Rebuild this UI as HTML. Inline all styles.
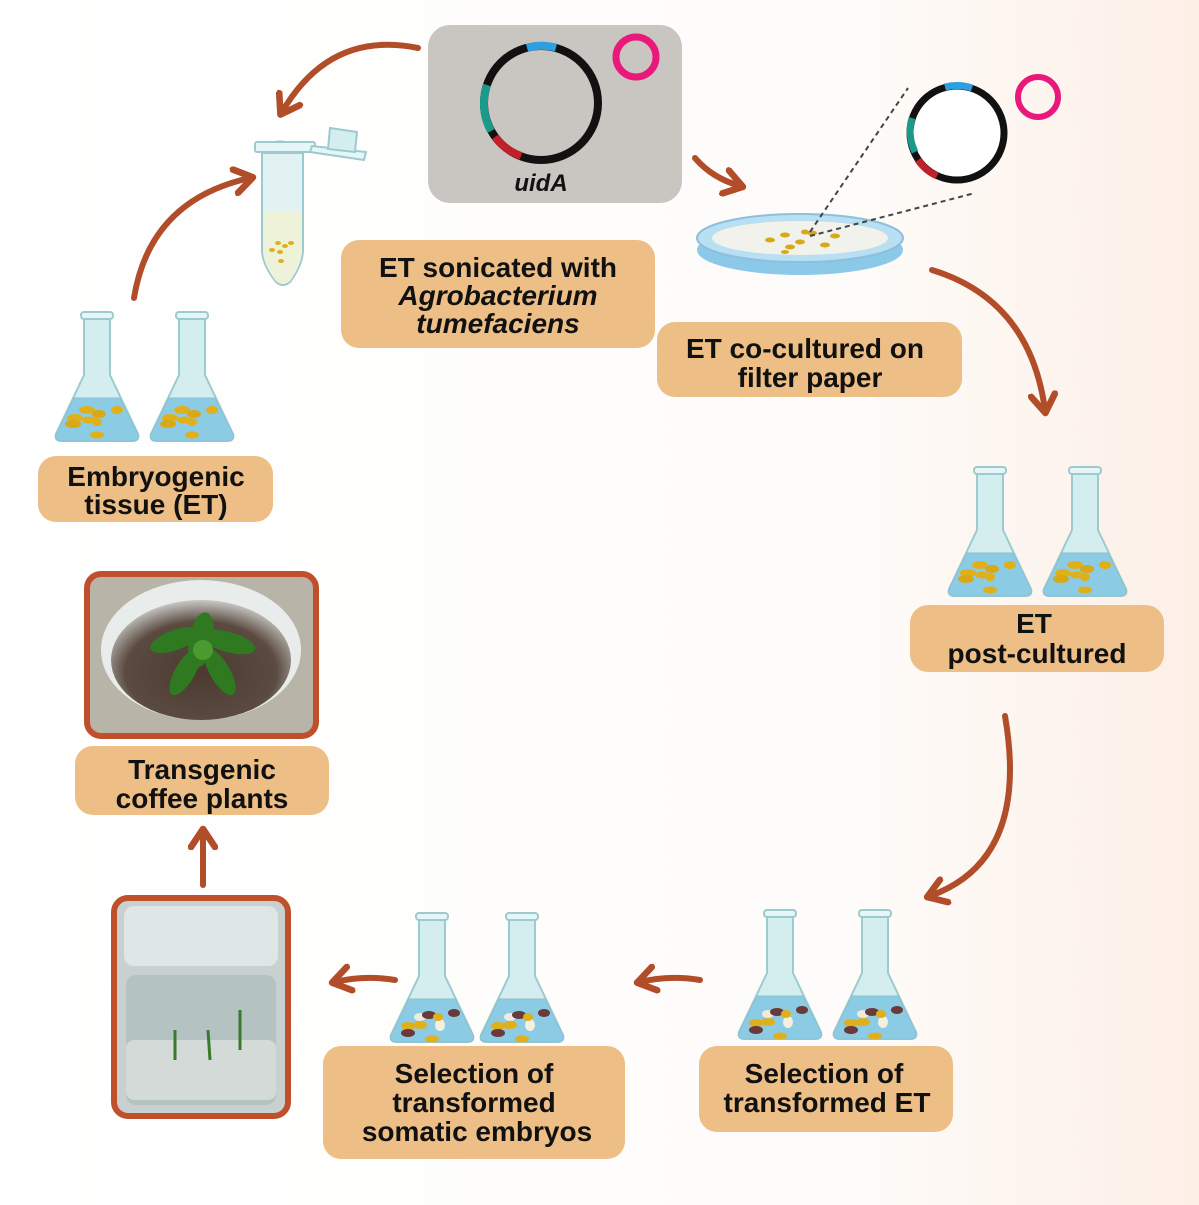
<!DOCTYPE html>
<html><head><meta charset="utf-8"><style>
html,body{margin:0;padding:0}
body{width:1199px;height:1200px;overflow:hidden;background:linear-gradient(90deg,#ffffff 0%,#fefcfa 70%,#fcefe6 100%)}
svg text{font-family:"Liberation Sans",sans-serif;font-weight:bold;fill:#111}
</style></head><body>
<svg width="1199" height="1200" viewBox="0 0 1199 1200" xmlns="http://www.w3.org/2000/svg">
<defs>
<g id="flask">
 <path d="M-13,5 L-13,63 L-41,122 Q-43,129 -35,129 L35,129 Q43,129 41,122 L13,63 L13,5 Z" fill="#d4eef0" stroke="#9ccbcf" stroke-width="2"/>
 <path d="M-23,86 L23,86 L41,122 Q43,129 35,129 L-35,129 Q-43,129 -41,122 Z" fill="#8ccbe4" stroke="#8cc0d0" stroke-width="1"/>
 <rect x="-16" y="0" width="32" height="7" rx="3" fill="#e6f6f6" stroke="#9ccbcf" stroke-width="2"/>
</g>
<g id="beads">
 <ellipse cx="-10" cy="98" rx="8" ry="4" fill="#e0b01a"/><ellipse cx="2" cy="102" rx="7" ry="4" fill="#d8a818"/>
 <ellipse cx="20" cy="98" rx="6" ry="4" fill="#e0b01a"/><ellipse cx="-22" cy="106" rx="8" ry="4" fill="#e0b01a"/>
 <ellipse cx="-8" cy="108" rx="7" ry="3.5" fill="#e0b01a"/><ellipse cx="-24" cy="112" rx="8" ry="4" fill="#d8a818"/>
 <ellipse cx="0" cy="123" rx="7" ry="3.5" fill="#e0b01a"/><ellipse cx="0" cy="110" rx="5" ry="4" fill="#e0b01a"/>
</g>
<g id="beads2">
 <ellipse cx="-12" cy="104" rx="6" ry="4" fill="#eeeae0"/><ellipse cx="-3" cy="102" rx="7" ry="4" fill="#6a3a3a"/>
 <ellipse cx="22" cy="100" rx="6" ry="4" fill="#6a3a3a"/><ellipse cx="-24" cy="113" rx="7" ry="4" fill="#e0b01a"/>
 <ellipse cx="-12" cy="112" rx="7" ry="4" fill="#e0b01a"/><ellipse cx="-24" cy="120" rx="7" ry="4" fill="#6a3a3a"/>
 <ellipse cx="8" cy="112" rx="5" ry="6" fill="#f4f0e0"/><ellipse cx="0" cy="126" rx="7" ry="3.5" fill="#e0b01a"/>
 <ellipse cx="6" cy="104" rx="5" ry="4" fill="#e0b01a"/>
</g>
<marker id="ah" viewBox="0 0 10 10" refX="6" refY="5" markerWidth="5" markerHeight="5" orient="auto" markerUnits="strokeWidth">
 <path d="M1,1 L7,5 L1,9" fill="none" stroke="#b24d2a" stroke-width="2.2" stroke-linecap="round" stroke-linejoin="round"/>
</marker>
<radialGradient id="soil" cx="50%" cy="60%" r="60%"><stop offset="0" stop-color="#4a3a30"/><stop offset="0.7" stop-color="#5a4a40"/><stop offset="1" stop-color="#c8c8c4"/></radialGradient>
</defs>

<!-- arrows -->
<g fill="none" stroke="#b24d2a" stroke-width="6" stroke-linecap="round" marker-end="url(#ah)">
 <path d="M418,48 Q330,30 282,112"/>
 <path d="M134,298 Q150,200 250,178"/>
 <path d="M695,158 Q712,178 740,186"/>
 <path d="M932,270 Q1030,300 1045,410"/>
 <path d="M1005,716 Q1030,860 930,896"/>
 <path d="M700,980 Q670,975 640,982"/>
 <path d="M395,980 Q365,975 335,982"/>
 <path d="M203,885 L203,832"/>
</g>

<!-- plasmid box -->
<rect x="428" y="25" width="254" height="178" rx="22" fill="#c9c5c1"/>
<circle cx="541" cy="103" r="57" fill="none" stroke="#111" stroke-width="8"/>
<path d="M527,47.7 A57,57 0 0 1 556,47.5" fill="none" stroke="#2e9fe0" stroke-width="8"/>
<path d="M487,85 A57,57 0 0 0 491,131" fill="none" stroke="#1a9a8a" stroke-width="8"/>
<path d="M495,137 A57,57 0 0 0 521,156" fill="none" stroke="#c0202a" stroke-width="8"/>
<circle cx="636" cy="57" r="20" fill="none" stroke="#e8197a" stroke-width="7"/>
<text x="541" y="191" font-size="24" font-style="italic" text-anchor="middle">uidA</text>

<!-- tube -->
<rect x="276" y="140" width="8" height="14" fill="#cce6e6"/>
<path d="M262,153 L262,250 Q262,264 276,282 Q283,288 290,282 Q303,264 303,250 L303,153 Z" fill="#e2f2f2" stroke="#9ccbcf" stroke-width="2"/>
<path d="M263,212 L302,212 L302,250 Q302,264 290,281 Q283,287 276,281 Q263,264 263,250 Z" fill="#eef2d8"/>
<rect x="255" y="142" width="60" height="10" rx="2" fill="#e6f6f6" stroke="#9ccbcf" stroke-width="2"/>
<path d="M312,146 L366,152 L364,160 L310,152 Z" fill="#e6f6f6" stroke="#9ccbcf" stroke-width="2"/>
<path d="M330,128 L357,132 L355,152 L328,149 Z" fill="#d4eef0" stroke="#9ccbcf" stroke-width="2"/>
<g fill="#e0b01a"><ellipse cx="278" cy="243" rx="3" ry="2"/><ellipse cx="285" cy="246" rx="3" ry="2"/><ellipse cx="272" cy="250" rx="3" ry="2"/><ellipse cx="280" cy="252" rx="3" ry="2"/><ellipse cx="281" cy="261" rx="3" ry="2"/><ellipse cx="291" cy="243" rx="3" ry="2"/></g>

<!-- petri dish -->
<ellipse cx="800" cy="250" rx="103" ry="25" fill="#8cc8e8"/>
<ellipse cx="800" cy="238" rx="103" ry="24" fill="#b8e0f2" stroke="#8cc0dc" stroke-width="2"/>
<ellipse cx="800" cy="238" rx="88" ry="17" fill="#f2f2ec"/>
<g fill="#d8a818"><ellipse cx="770" cy="240" rx="5" ry="2.5"/><ellipse cx="785" cy="235" rx="5" ry="2.5"/><ellipse cx="800" cy="242" rx="5" ry="2.5"/><ellipse cx="812" cy="233" rx="5" ry="2.5"/><ellipse cx="825" cy="245" rx="5" ry="2.5"/><ellipse cx="790" cy="247" rx="5" ry="2.5"/><ellipse cx="835" cy="236" rx="5" ry="2.5"/><ellipse cx="805" cy="232" rx="4" ry="2.5"/><ellipse cx="785" cy="252" rx="4" ry="2"/></g>
<g stroke="#444" stroke-width="2" stroke-dasharray="5,4"><line x1="810" y1="232" x2="908" y2="88"/><line x1="810" y1="236" x2="975" y2="193"/></g>
<circle cx="957" cy="133" r="47" fill="#fff" stroke="#111" stroke-width="7"/>
<path d="M945,87 A47,47 0 0 1 972,88" fill="none" stroke="#2e9fe0" stroke-width="7"/>
<path d="M912,118 A47,47 0 0 0 915,152" fill="none" stroke="#1a9a8a" stroke-width="7"/>
<path d="M918,160 A47,47 0 0 0 937,176" fill="none" stroke="#c0202a" stroke-width="7"/>
<circle cx="1038" cy="97" r="20" fill="none" stroke="#e8197a" stroke-width="6"/>

<!-- flasks -->
<use href="#flask" x="97" y="312"/><use href="#beads" x="97" y="312"/>
<use href="#flask" x="192" y="312"/><use href="#beads" x="192" y="312"/>
<use href="#flask" x="990" y="467"/><use href="#beads" x="990" y="467"/>
<use href="#flask" x="1085" y="467"/><use href="#beads" x="1085" y="467"/>
<use href="#flask" x="780" y="910"/><use href="#beads2" x="780" y="910"/>
<use href="#flask" x="875" y="910"/><use href="#beads2" x="875" y="910"/>
<use href="#flask" x="432" y="913"/><use href="#beads2" x="432" y="913"/>
<use href="#flask" x="522" y="913"/><use href="#beads2" x="522" y="913"/>

<!-- photos -->
<rect x="87" y="574" width="229" height="162" rx="14" fill="#b8b4a8" stroke="#c0502c" stroke-width="6"/>
<ellipse cx="201" cy="650" rx="100" ry="70" fill="#e8ecea"/>
<ellipse cx="201" cy="660" rx="90" ry="60" fill="url(#soil)"/>
<g fill="#2f7a20">
<ellipse cx="201" cy="640" rx="12" ry="28" transform="rotate(10 201 640)"/>
<ellipse cx="175" cy="640" rx="26" ry="10" transform="rotate(-20 175 640)"/>
<ellipse cx="228" cy="642" rx="28" ry="10" transform="rotate(15 228 642)"/>
<ellipse cx="185" cy="672" rx="10" ry="26" transform="rotate(30 185 672)"/>
<ellipse cx="220" cy="672" rx="10" ry="26" transform="rotate(-30 220 672)"/>
<ellipse cx="203" cy="650" rx="10" ry="10" fill="#4a9a30"/>
</g>
<rect x="114" y="898" width="174" height="218" rx="14" fill="#c8d0d0" stroke="#c0502c" stroke-width="6"/>
<rect x="124" y="906" width="154" height="60" rx="10" fill="#dfe6e6"/>
<rect x="126" y="975" width="150" height="130" rx="10" fill="#b4c2c2"/>
<rect x="126" y="1040" width="150" height="60" rx="8" fill="#d4dad8"/>
<g stroke="#3a7a2a" stroke-width="3"><line x1="175" y1="1060" x2="175" y2="1030"/><line x1="210" y1="1060" x2="208" y2="1030"/><line x1="240" y1="1050" x2="240" y2="1010"/></g>

<!-- labels -->
<g fill="#edbf86">
<rect x="341" y="240" width="314" height="108" rx="18"/>
<rect x="657" y="322" width="305" height="75" rx="18"/>
<rect x="38" y="456" width="235" height="66" rx="18"/>
<rect x="910" y="605" width="254" height="67" rx="18"/>
<rect x="699" y="1046" width="254" height="86" rx="18"/>
<rect x="323" y="1046" width="302" height="113" rx="18"/>
<rect x="75" y="746" width="254" height="69" rx="18"/>
</g>
<g font-size="28" text-anchor="middle">
<text x="498" y="277">ET sonicated with</text>
<text x="498" y="305" font-style="italic">Agrobacterium</text>
<text x="498" y="333" font-style="italic">tumefaciens</text>
<text x="805" y="358">ET co-cultured on</text>
<text x="810" y="387">filter paper</text>
<text x="156" y="486">Embryogenic</text>
<text x="156" y="514">tissue (ET)</text>
<text x="1034" y="633">ET</text>
<text x="1037" y="663">post-cultured</text>
<text x="824" y="1083">Selection of</text>
<text x="827" y="1112">transformed ET</text>
<text x="474" y="1083">Selection of</text>
<text x="474" y="1112">transformed</text>
<text x="477" y="1141">somatic embryos</text>
<text x="202" y="779">Transgenic</text>
<text x="202" y="808">coffee plants</text>
</g>
</svg>
</body></html>
